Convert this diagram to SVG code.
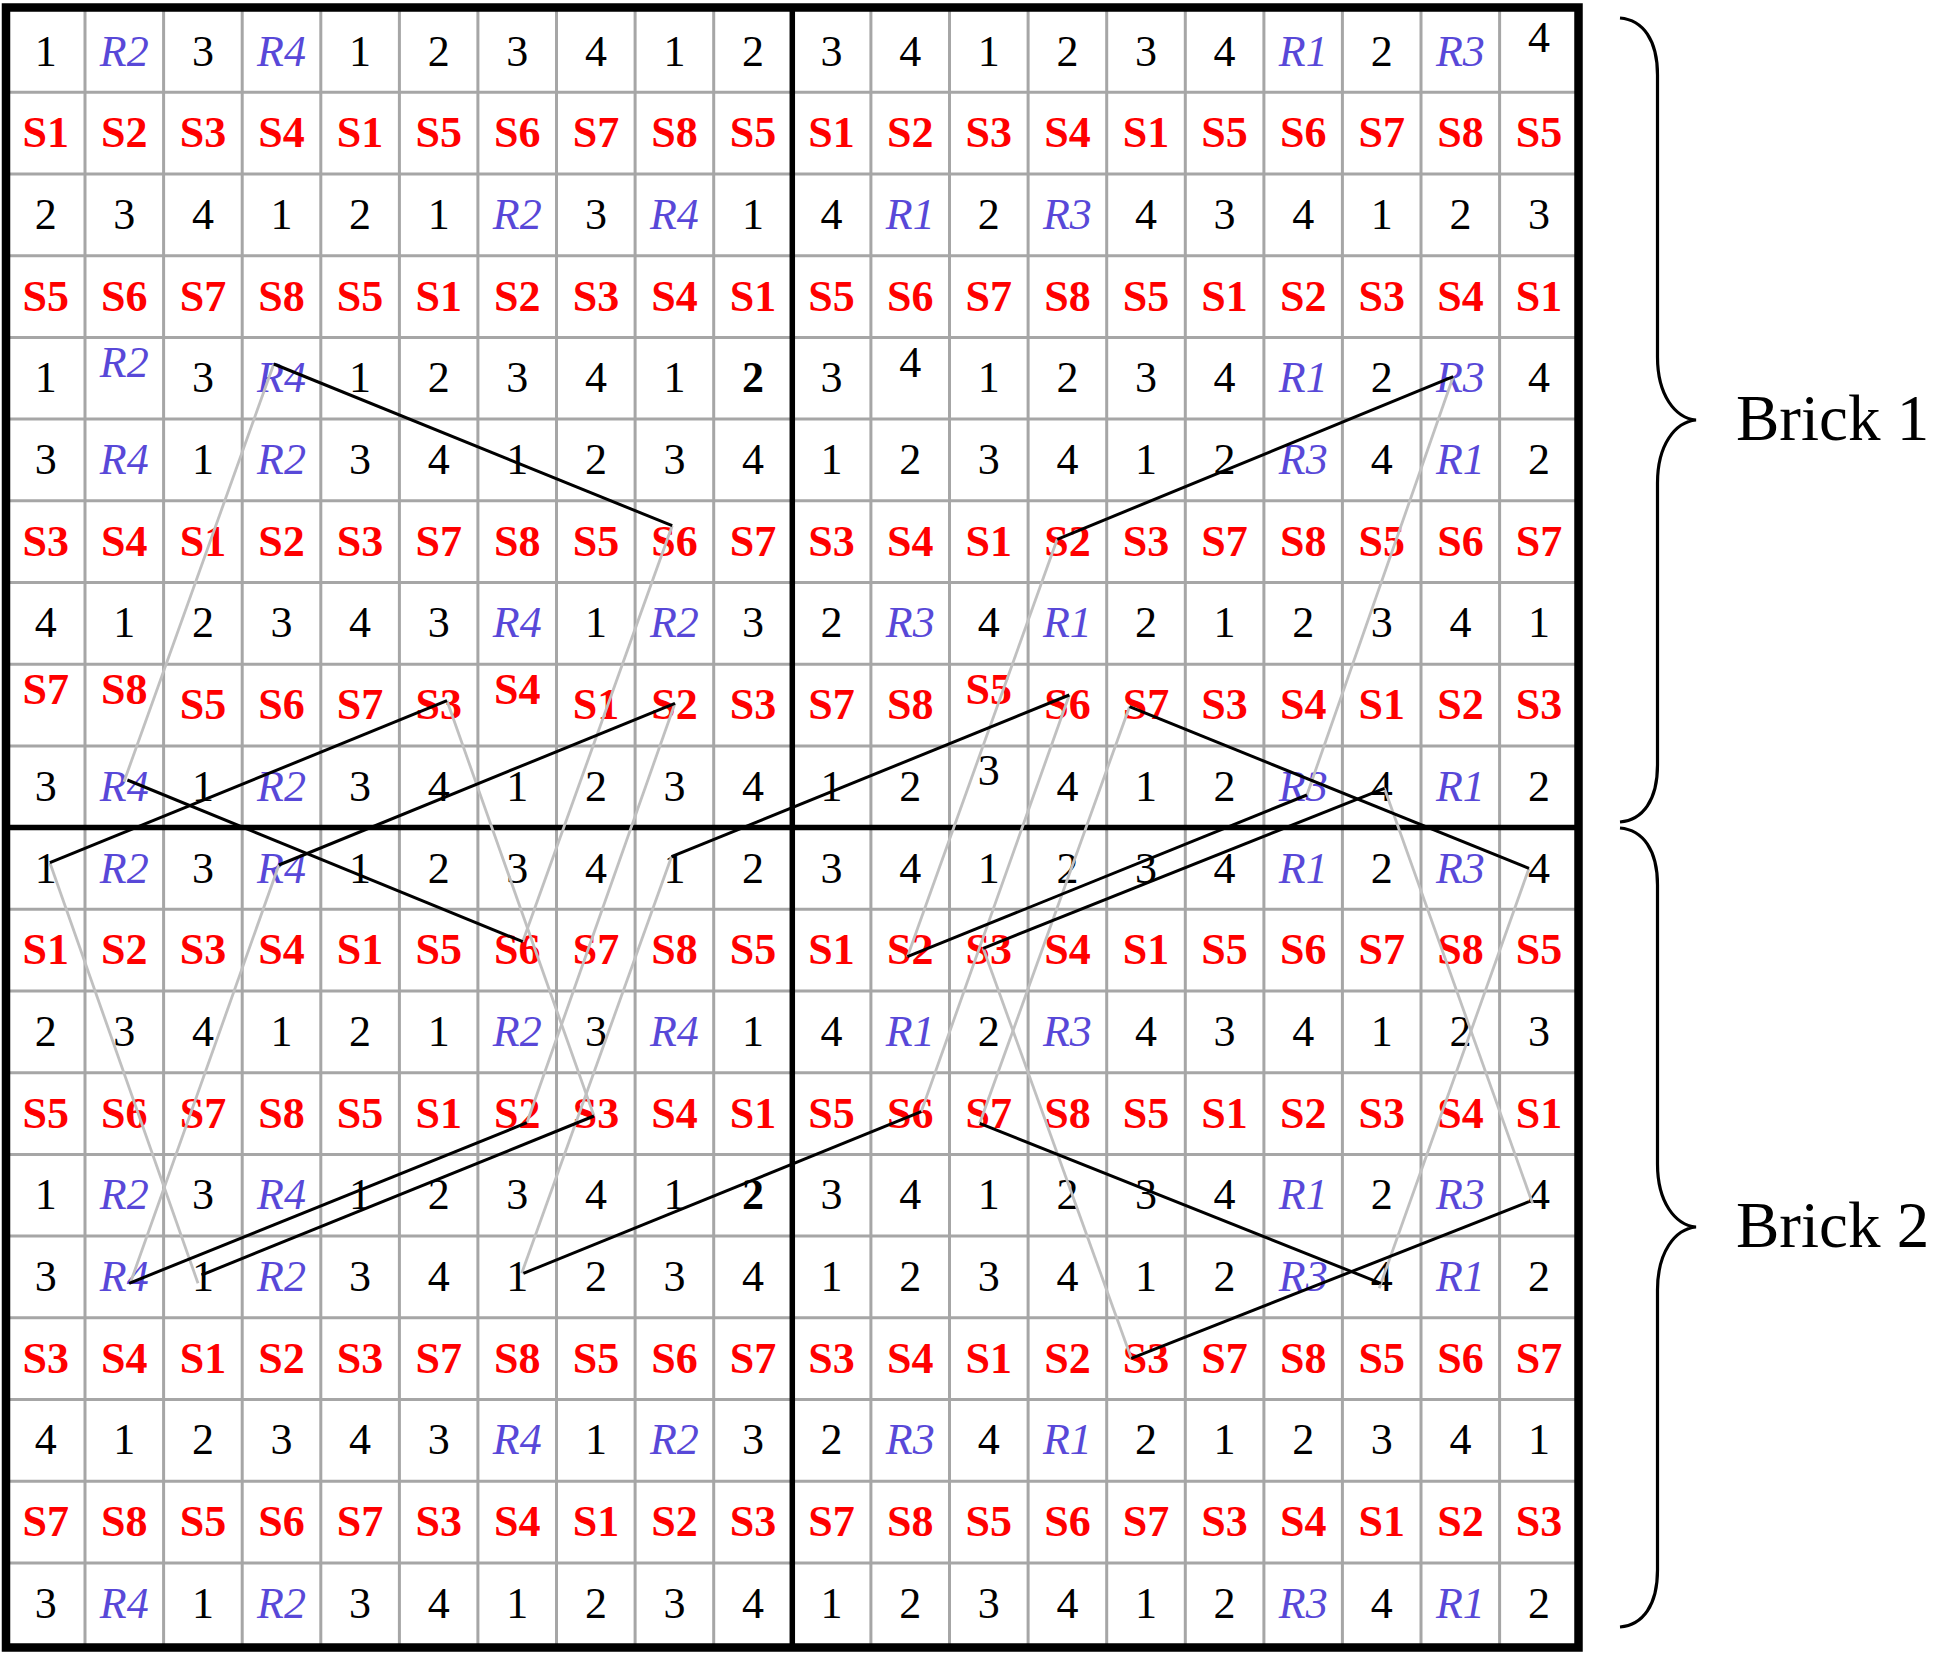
<svg xmlns="http://www.w3.org/2000/svg" width="1933" height="1656" viewBox="0 0 1933 1656">
<style>
text{font-family:"Liberation Serif","Times New Roman",serif;font-size:44px;text-anchor:middle}
.n{fill:#000}
.b{fill:#000;font-weight:bold}
.r{fill:#5848d8;font-style:italic}
.s{fill:#ff0000;font-weight:bold}
.grid{stroke:#a6a6a6;stroke-width:3;fill:none}
.thick{stroke:#000;stroke-width:5.5;fill:none}
.border{stroke:#000;stroke-width:8.5;fill:none}
.gl{stroke:#c0c0c0;stroke-width:2.8;fill:none}
.bl{stroke:#000;stroke-width:3;fill:none}
.brace{stroke:#000;stroke-width:3.2;fill:none}
.lbl{font-size:65px;text-anchor:start}
</style>
<rect width="1933" height="1656" fill="#fff"/>
<g id="grid">
<path class="grid" d="M85.0 10V1645M163.6 10V1645M242.2 10V1645M320.8 10V1645M399.4 10V1645M477.9 10V1645M556.5 10V1645M635.1 10V1645M713.7 10V1645M870.9 10V1645M949.5 10V1645M1028.1 10V1645M1106.7 10V1645M1185.3 10V1645M1263.9 10V1645M1342.4 10V1645M1421.0 10V1645M1499.6 10V1645"/>
<path class="grid" d="M8 92.3H1577M8 174.0H1577M8 255.7H1577M8 337.4H1577M8 419.1H1577M8 500.8H1577M8 582.5H1577M8 664.2H1577M8 745.9H1577M8 909.3H1577M8 991.0H1577M8 1072.7H1577M8 1154.4H1577M8 1236.1H1577M8 1317.8H1577M8 1399.5H1577M8 1481.2H1577M8 1562.9H1577"/>
<path class="thick" d="M792.3 8V1648M6 827.6H1578"/>
<rect class="border" x="6" y="7.5" width="1572.5" height="1640"/>
</g>
<g id="cells">
<g id="row0">
<text class="n" x="45.7" y="65.5">1</text><text class="r" x="124.3" y="65.5">R2</text><text class="n" x="202.9" y="65.5">3</text><text class="r" x="281.5" y="65.5">R4</text><text class="n" x="360.1" y="65.5">1</text><text class="n" x="438.7" y="65.5">2</text><text class="n" x="517.3" y="65.5">3</text><text class="n" x="595.9" y="65.5">4</text><text class="n" x="674.4" y="65.5">1</text><text class="n" x="753.0" y="65.5">2</text><text class="n" x="831.6" y="65.5">3</text><text class="n" x="910.2" y="65.5">4</text><text class="n" x="988.8" y="65.5">1</text><text class="n" x="1067.4" y="65.5">2</text><text class="n" x="1146.0" y="65.5">3</text><text class="n" x="1224.6" y="65.5">4</text><text class="r" x="1303.2" y="65.5">R1</text><text class="n" x="1381.8" y="65.5">2</text><text class="r" x="1460.4" y="65.5">R3</text><text class="n" x="1539.0" y="51.7">4</text>
</g>
<g id="row1">
<text class="s" x="45.7" y="147.2">S1</text><text class="s" x="124.3" y="147.2">S2</text><text class="s" x="202.9" y="147.2">S3</text><text class="s" x="281.5" y="147.2">S4</text><text class="s" x="360.1" y="147.2">S1</text><text class="s" x="438.7" y="147.2">S5</text><text class="s" x="517.3" y="147.2">S6</text><text class="s" x="595.9" y="147.2">S7</text><text class="s" x="674.4" y="147.2">S8</text><text class="s" x="753.0" y="147.2">S5</text><text class="s" x="831.6" y="147.2">S1</text><text class="s" x="910.2" y="147.2">S2</text><text class="s" x="988.8" y="147.2">S3</text><text class="s" x="1067.4" y="147.2">S4</text><text class="s" x="1146.0" y="147.2">S1</text><text class="s" x="1224.6" y="147.2">S5</text><text class="s" x="1303.2" y="147.2">S6</text><text class="s" x="1381.8" y="147.2">S7</text><text class="s" x="1460.4" y="147.2">S8</text><text class="s" x="1539.0" y="147.2">S5</text>
</g>
<g id="row2">
<text class="n" x="45.7" y="228.9">2</text><text class="n" x="124.3" y="228.9">3</text><text class="n" x="202.9" y="228.9">4</text><text class="n" x="281.5" y="228.9">1</text><text class="n" x="360.1" y="228.9">2</text><text class="n" x="438.7" y="228.9">1</text><text class="r" x="517.3" y="228.9">R2</text><text class="n" x="595.9" y="228.9">3</text><text class="r" x="674.4" y="228.9">R4</text><text class="n" x="753.0" y="228.9">1</text><text class="n" x="831.6" y="228.9">4</text><text class="r" x="910.2" y="228.9">R1</text><text class="n" x="988.8" y="228.9">2</text><text class="r" x="1067.4" y="228.9">R3</text><text class="n" x="1146.0" y="228.9">4</text><text class="n" x="1224.6" y="228.9">3</text><text class="n" x="1303.2" y="228.9">4</text><text class="n" x="1381.8" y="228.9">1</text><text class="n" x="1460.4" y="228.9">2</text><text class="n" x="1539.0" y="228.9">3</text>
</g>
<g id="row3">
<text class="s" x="45.7" y="310.6">S5</text><text class="s" x="124.3" y="310.6">S6</text><text class="s" x="202.9" y="310.6">S7</text><text class="s" x="281.5" y="310.6">S8</text><text class="s" x="360.1" y="310.6">S5</text><text class="s" x="438.7" y="310.6">S1</text><text class="s" x="517.3" y="310.6">S2</text><text class="s" x="595.9" y="310.6">S3</text><text class="s" x="674.4" y="310.6">S4</text><text class="s" x="753.0" y="310.6">S1</text><text class="s" x="831.6" y="310.6">S5</text><text class="s" x="910.2" y="310.6">S6</text><text class="s" x="988.8" y="310.6">S7</text><text class="s" x="1067.4" y="310.6">S8</text><text class="s" x="1146.0" y="310.6">S5</text><text class="s" x="1224.6" y="310.6">S1</text><text class="s" x="1303.2" y="310.6">S2</text><text class="s" x="1381.8" y="310.6">S3</text><text class="s" x="1460.4" y="310.6">S4</text><text class="s" x="1539.0" y="310.6">S1</text>
</g>
<g id="row4">
<text class="n" x="45.7" y="392.3">1</text><text class="r" x="124.3" y="377.3">R2</text><text class="n" x="202.9" y="392.3">3</text><text class="r" x="281.5" y="392.3">R4</text><text class="n" x="360.1" y="392.3">1</text><text class="n" x="438.7" y="392.3">2</text><text class="n" x="517.3" y="392.3">3</text><text class="n" x="595.9" y="392.3">4</text><text class="n" x="674.4" y="392.3">1</text><text class="b" x="753.0" y="392.3">2</text><text class="n" x="831.6" y="392.3">3</text><text class="n" x="910.2" y="377.3">4</text><text class="n" x="988.8" y="392.3">1</text><text class="n" x="1067.4" y="392.3">2</text><text class="n" x="1146.0" y="392.3">3</text><text class="n" x="1224.6" y="392.3">4</text><text class="r" x="1303.2" y="392.3">R1</text><text class="n" x="1381.8" y="392.3">2</text><text class="r" x="1460.4" y="392.3">R3</text><text class="n" x="1539.0" y="392.3">4</text>
</g>
<g id="row5">
<text class="n" x="45.7" y="474.0">3</text><text class="r" x="124.3" y="474.0">R4</text><text class="n" x="202.9" y="474.0">1</text><text class="r" x="281.5" y="474.0">R2</text><text class="n" x="360.1" y="474.0">3</text><text class="n" x="438.7" y="474.0">4</text><text class="n" x="517.3" y="474.0">1</text><text class="n" x="595.9" y="474.0">2</text><text class="n" x="674.4" y="474.0">3</text><text class="n" x="753.0" y="474.0">4</text><text class="n" x="831.6" y="474.0">1</text><text class="n" x="910.2" y="474.0">2</text><text class="n" x="988.8" y="474.0">3</text><text class="n" x="1067.4" y="474.0">4</text><text class="n" x="1146.0" y="474.0">1</text><text class="n" x="1224.6" y="474.0">2</text><text class="r" x="1303.2" y="474.0">R3</text><text class="n" x="1381.8" y="474.0">4</text><text class="r" x="1460.4" y="474.0">R1</text><text class="n" x="1539.0" y="474.0">2</text>
</g>
<g id="row6">
<text class="s" x="45.7" y="555.7">S3</text><text class="s" x="124.3" y="555.7">S4</text><text class="s" x="202.9" y="555.7">S1</text><text class="s" x="281.5" y="555.7">S2</text><text class="s" x="360.1" y="555.7">S3</text><text class="s" x="438.7" y="555.7">S7</text><text class="s" x="517.3" y="555.7">S8</text><text class="s" x="595.9" y="555.7">S5</text><text class="s" x="674.4" y="555.7">S6</text><text class="s" x="753.0" y="555.7">S7</text><text class="s" x="831.6" y="555.7">S3</text><text class="s" x="910.2" y="555.7">S4</text><text class="s" x="988.8" y="555.7">S1</text><text class="s" x="1067.4" y="555.7">S2</text><text class="s" x="1146.0" y="555.7">S3</text><text class="s" x="1224.6" y="555.7">S7</text><text class="s" x="1303.2" y="555.7">S8</text><text class="s" x="1381.8" y="555.7">S5</text><text class="s" x="1460.4" y="555.7">S6</text><text class="s" x="1539.0" y="555.7">S7</text>
</g>
<g id="row7">
<text class="n" x="45.7" y="637.4">4</text><text class="n" x="124.3" y="637.4">1</text><text class="n" x="202.9" y="637.4">2</text><text class="n" x="281.5" y="637.4">3</text><text class="n" x="360.1" y="637.4">4</text><text class="n" x="438.7" y="637.4">3</text><text class="r" x="517.3" y="637.4">R4</text><text class="n" x="595.9" y="637.4">1</text><text class="r" x="674.4" y="637.4">R2</text><text class="n" x="753.0" y="637.4">3</text><text class="n" x="831.6" y="637.4">2</text><text class="r" x="910.2" y="637.4">R3</text><text class="n" x="988.8" y="637.4">4</text><text class="r" x="1067.4" y="637.4">R1</text><text class="n" x="1146.0" y="637.4">2</text><text class="n" x="1224.6" y="637.4">1</text><text class="n" x="1303.2" y="637.4">2</text><text class="n" x="1381.8" y="637.4">3</text><text class="n" x="1460.4" y="637.4">4</text><text class="n" x="1539.0" y="637.4">1</text>
</g>
<g id="row8">
<text class="s" x="45.7" y="704">S7</text><text class="s" x="124.3" y="704">S8</text><text class="s" x="202.9" y="719.1">S5</text><text class="s" x="281.5" y="719.1">S6</text><text class="s" x="360.1" y="719.1">S7</text><text class="s" x="438.7" y="719.1">S3</text><text class="s" x="517.3" y="704">S4</text><text class="s" x="595.9" y="719.1">S1</text><text class="s" x="674.4" y="719.1">S2</text><text class="s" x="753.0" y="719.1">S3</text><text class="s" x="831.6" y="719.1">S7</text><text class="s" x="910.2" y="719.1">S8</text><text class="s" x="988.8" y="704">S5</text><text class="s" x="1067.4" y="719.1">S6</text><text class="s" x="1146.0" y="719.1">S7</text><text class="s" x="1224.6" y="719.1">S3</text><text class="s" x="1303.2" y="719.1">S4</text><text class="s" x="1381.8" y="719.1">S1</text><text class="s" x="1460.4" y="719.1">S2</text><text class="s" x="1539.0" y="719.1">S3</text>
</g>
<g id="row9">
<text class="n" x="45.7" y="800.8">3</text><text class="r" x="124.3" y="800.8">R4</text><text class="n" x="202.9" y="800.8">1</text><text class="r" x="281.5" y="800.8">R2</text><text class="n" x="360.1" y="800.8">3</text><text class="n" x="438.7" y="800.8">4</text><text class="n" x="517.3" y="800.8">1</text><text class="n" x="595.9" y="800.8">2</text><text class="n" x="674.4" y="800.8">3</text><text class="n" x="753.0" y="800.8">4</text><text class="n" x="831.6" y="800.8">1</text><text class="n" x="910.2" y="800.8">2</text><text class="n" x="988.8" y="785">3</text><text class="n" x="1067.4" y="800.8">4</text><text class="n" x="1146.0" y="800.8">1</text><text class="n" x="1224.6" y="800.8">2</text><text class="r" x="1303.2" y="800.8">R3</text><text class="n" x="1381.8" y="800.8">4</text><text class="r" x="1460.4" y="800.8">R1</text><text class="n" x="1539.0" y="800.8">2</text>
</g>
<g id="row10">
<text class="n" x="45.7" y="882.5">1</text><text class="r" x="124.3" y="882.5">R2</text><text class="n" x="202.9" y="882.5">3</text><text class="r" x="281.5" y="882.5">R4</text><text class="n" x="360.1" y="882.5">1</text><text class="n" x="438.7" y="882.5">2</text><text class="n" x="517.3" y="882.5">3</text><text class="n" x="595.9" y="882.5">4</text><text class="n" x="674.4" y="882.5">1</text><text class="n" x="753.0" y="882.5">2</text><text class="n" x="831.6" y="882.5">3</text><text class="n" x="910.2" y="882.5">4</text><text class="n" x="988.8" y="882.5">1</text><text class="n" x="1067.4" y="882.5">2</text><text class="n" x="1146.0" y="882.5">3</text><text class="n" x="1224.6" y="882.5">4</text><text class="r" x="1303.2" y="882.5">R1</text><text class="n" x="1381.8" y="882.5">2</text><text class="r" x="1460.4" y="882.5">R3</text><text class="n" x="1539.0" y="882.5">4</text>
</g>
<g id="row11">
<text class="s" x="45.7" y="964.2">S1</text><text class="s" x="124.3" y="964.2">S2</text><text class="s" x="202.9" y="964.2">S3</text><text class="s" x="281.5" y="964.2">S4</text><text class="s" x="360.1" y="964.2">S1</text><text class="s" x="438.7" y="964.2">S5</text><text class="s" x="517.3" y="964.2">S6</text><text class="s" x="595.9" y="964.2">S7</text><text class="s" x="674.4" y="964.2">S8</text><text class="s" x="753.0" y="964.2">S5</text><text class="s" x="831.6" y="964.2">S1</text><text class="s" x="910.2" y="964.2">S2</text><text class="s" x="988.8" y="964.2">S3</text><text class="s" x="1067.4" y="964.2">S4</text><text class="s" x="1146.0" y="964.2">S1</text><text class="s" x="1224.6" y="964.2">S5</text><text class="s" x="1303.2" y="964.2">S6</text><text class="s" x="1381.8" y="964.2">S7</text><text class="s" x="1460.4" y="964.2">S8</text><text class="s" x="1539.0" y="964.2">S5</text>
</g>
<g id="row12">
<text class="n" x="45.7" y="1045.9">2</text><text class="n" x="124.3" y="1045.9">3</text><text class="n" x="202.9" y="1045.9">4</text><text class="n" x="281.5" y="1045.9">1</text><text class="n" x="360.1" y="1045.9">2</text><text class="n" x="438.7" y="1045.9">1</text><text class="r" x="517.3" y="1045.9">R2</text><text class="n" x="595.9" y="1045.9">3</text><text class="r" x="674.4" y="1045.9">R4</text><text class="n" x="753.0" y="1045.9">1</text><text class="n" x="831.6" y="1045.9">4</text><text class="r" x="910.2" y="1045.9">R1</text><text class="n" x="988.8" y="1045.9">2</text><text class="r" x="1067.4" y="1045.9">R3</text><text class="n" x="1146.0" y="1045.9">4</text><text class="n" x="1224.6" y="1045.9">3</text><text class="n" x="1303.2" y="1045.9">4</text><text class="n" x="1381.8" y="1045.9">1</text><text class="n" x="1460.4" y="1045.9">2</text><text class="n" x="1539.0" y="1045.9">3</text>
</g>
<g id="row13">
<text class="s" x="45.7" y="1127.6">S5</text><text class="s" x="124.3" y="1127.6">S6</text><text class="s" x="202.9" y="1127.6">S7</text><text class="s" x="281.5" y="1127.6">S8</text><text class="s" x="360.1" y="1127.6">S5</text><text class="s" x="438.7" y="1127.6">S1</text><text class="s" x="517.3" y="1127.6">S2</text><text class="s" x="595.9" y="1127.6">S3</text><text class="s" x="674.4" y="1127.6">S4</text><text class="s" x="753.0" y="1127.6">S1</text><text class="s" x="831.6" y="1127.6">S5</text><text class="s" x="910.2" y="1127.6">S6</text><text class="s" x="988.8" y="1127.6">S7</text><text class="s" x="1067.4" y="1127.6">S8</text><text class="s" x="1146.0" y="1127.6">S5</text><text class="s" x="1224.6" y="1127.6">S1</text><text class="s" x="1303.2" y="1127.6">S2</text><text class="s" x="1381.8" y="1127.6">S3</text><text class="s" x="1460.4" y="1127.6">S4</text><text class="s" x="1539.0" y="1127.6">S1</text>
</g>
<g id="row14">
<text class="n" x="45.7" y="1209.3">1</text><text class="r" x="124.3" y="1209.3">R2</text><text class="n" x="202.9" y="1209.3">3</text><text class="r" x="281.5" y="1209.3">R4</text><text class="n" x="360.1" y="1209.3">1</text><text class="n" x="438.7" y="1209.3">2</text><text class="n" x="517.3" y="1209.3">3</text><text class="n" x="595.9" y="1209.3">4</text><text class="n" x="674.4" y="1209.3">1</text><text class="b" x="753.0" y="1209.3">2</text><text class="n" x="831.6" y="1209.3">3</text><text class="n" x="910.2" y="1209.3">4</text><text class="n" x="988.8" y="1209.3">1</text><text class="n" x="1067.4" y="1209.3">2</text><text class="n" x="1146.0" y="1209.3">3</text><text class="n" x="1224.6" y="1209.3">4</text><text class="r" x="1303.2" y="1209.3">R1</text><text class="n" x="1381.8" y="1209.3">2</text><text class="r" x="1460.4" y="1209.3">R3</text><text class="n" x="1539.0" y="1209.3">4</text>
</g>
<g id="row15">
<text class="n" x="45.7" y="1291.0">3</text><text class="r" x="124.3" y="1291.0">R4</text><text class="n" x="202.9" y="1291.0">1</text><text class="r" x="281.5" y="1291.0">R2</text><text class="n" x="360.1" y="1291.0">3</text><text class="n" x="438.7" y="1291.0">4</text><text class="n" x="517.3" y="1291.0">1</text><text class="n" x="595.9" y="1291.0">2</text><text class="n" x="674.4" y="1291.0">3</text><text class="n" x="753.0" y="1291.0">4</text><text class="n" x="831.6" y="1291.0">1</text><text class="n" x="910.2" y="1291.0">2</text><text class="n" x="988.8" y="1291.0">3</text><text class="n" x="1067.4" y="1291.0">4</text><text class="n" x="1146.0" y="1291.0">1</text><text class="n" x="1224.6" y="1291.0">2</text><text class="r" x="1303.2" y="1291.0">R3</text><text class="n" x="1381.8" y="1291.0">4</text><text class="r" x="1460.4" y="1291.0">R1</text><text class="n" x="1539.0" y="1291.0">2</text>
</g>
<g id="row16">
<text class="s" x="45.7" y="1372.7">S3</text><text class="s" x="124.3" y="1372.7">S4</text><text class="s" x="202.9" y="1372.7">S1</text><text class="s" x="281.5" y="1372.7">S2</text><text class="s" x="360.1" y="1372.7">S3</text><text class="s" x="438.7" y="1372.7">S7</text><text class="s" x="517.3" y="1372.7">S8</text><text class="s" x="595.9" y="1372.7">S5</text><text class="s" x="674.4" y="1372.7">S6</text><text class="s" x="753.0" y="1372.7">S7</text><text class="s" x="831.6" y="1372.7">S3</text><text class="s" x="910.2" y="1372.7">S4</text><text class="s" x="988.8" y="1372.7">S1</text><text class="s" x="1067.4" y="1372.7">S2</text><text class="s" x="1146.0" y="1372.7">S3</text><text class="s" x="1224.6" y="1372.7">S7</text><text class="s" x="1303.2" y="1372.7">S8</text><text class="s" x="1381.8" y="1372.7">S5</text><text class="s" x="1460.4" y="1372.7">S6</text><text class="s" x="1539.0" y="1372.7">S7</text>
</g>
<g id="row17">
<text class="n" x="45.7" y="1454.4">4</text><text class="n" x="124.3" y="1454.4">1</text><text class="n" x="202.9" y="1454.4">2</text><text class="n" x="281.5" y="1454.4">3</text><text class="n" x="360.1" y="1454.4">4</text><text class="n" x="438.7" y="1454.4">3</text><text class="r" x="517.3" y="1454.4">R4</text><text class="n" x="595.9" y="1454.4">1</text><text class="r" x="674.4" y="1454.4">R2</text><text class="n" x="753.0" y="1454.4">3</text><text class="n" x="831.6" y="1454.4">2</text><text class="r" x="910.2" y="1454.4">R3</text><text class="n" x="988.8" y="1454.4">4</text><text class="r" x="1067.4" y="1454.4">R1</text><text class="n" x="1146.0" y="1454.4">2</text><text class="n" x="1224.6" y="1454.4">1</text><text class="n" x="1303.2" y="1454.4">2</text><text class="n" x="1381.8" y="1454.4">3</text><text class="n" x="1460.4" y="1454.4">4</text><text class="n" x="1539.0" y="1454.4">1</text>
</g>
<g id="row18">
<text class="s" x="45.7" y="1536.1">S7</text><text class="s" x="124.3" y="1536.1">S8</text><text class="s" x="202.9" y="1536.1">S5</text><text class="s" x="281.5" y="1536.1">S6</text><text class="s" x="360.1" y="1536.1">S7</text><text class="s" x="438.7" y="1536.1">S3</text><text class="s" x="517.3" y="1536.1">S4</text><text class="s" x="595.9" y="1536.1">S1</text><text class="s" x="674.4" y="1536.1">S2</text><text class="s" x="753.0" y="1536.1">S3</text><text class="s" x="831.6" y="1536.1">S7</text><text class="s" x="910.2" y="1536.1">S8</text><text class="s" x="988.8" y="1536.1">S5</text><text class="s" x="1067.4" y="1536.1">S6</text><text class="s" x="1146.0" y="1536.1">S7</text><text class="s" x="1224.6" y="1536.1">S3</text><text class="s" x="1303.2" y="1536.1">S4</text><text class="s" x="1381.8" y="1536.1">S1</text><text class="s" x="1460.4" y="1536.1">S2</text><text class="s" x="1539.0" y="1536.1">S3</text>
</g>
<g id="row19">
<text class="n" x="45.7" y="1617.8">3</text><text class="r" x="124.3" y="1617.8">R4</text><text class="n" x="202.9" y="1617.8">1</text><text class="r" x="281.5" y="1617.8">R2</text><text class="n" x="360.1" y="1617.8">3</text><text class="n" x="438.7" y="1617.8">4</text><text class="n" x="517.3" y="1617.8">1</text><text class="n" x="595.9" y="1617.8">2</text><text class="n" x="674.4" y="1617.8">3</text><text class="n" x="753.0" y="1617.8">4</text><text class="n" x="831.6" y="1617.8">1</text><text class="n" x="910.2" y="1617.8">2</text><text class="n" x="988.8" y="1617.8">3</text><text class="n" x="1067.4" y="1617.8">4</text><text class="n" x="1146.0" y="1617.8">1</text><text class="n" x="1224.6" y="1617.8">2</text><text class="r" x="1303.2" y="1617.8">R3</text><text class="n" x="1381.8" y="1617.8">4</text><text class="r" x="1460.4" y="1617.8">R1</text><text class="n" x="1539.0" y="1617.8">2</text>
</g>
</g>
<g id="connectors">
<g id="grey-links">
<path class="gl" d="M273.8 364L124 781.7"/>
<path class="gl" d="M672.2 525.7L522.7 941.7"/>
<path class="gl" d="M447 700.7L594 1116"/>
<path class="gl" d="M675 703.3L526.9 1122.7"/>
<path class="gl" d="M49.9 862.7L198 1283.3"/>
<path class="gl" d="M278.9 865L130.2 1283.3"/>
<path class="gl" d="M671.5 856.7L521.7 1273.3"/>
<path class="gl" d="M1453.2 376.7L1306.9 795"/>
<path class="gl" d="M1057.2 539.3L907.4 956.7"/>
<path class="gl" d="M1069.3 695L921.2 1111.7"/>
<path class="gl" d="M1129.5 706.7L979.7 1123.3"/>
<path class="gl" d="M983.2 948.3L1131.3 1358.3"/>
<path class="gl" d="M1384.4 788.3L1532.5 1203.3"/>
<path class="gl" d="M1529 868.3L1379.2 1288.3"/>
</g>
<g id="black-links">
<path class="bl" d="M273.8 364L672.2 525.7"/>
<path class="bl" d="M1453.2 376.7L1057.2 539.3"/>
<path class="bl" d="M49.9 862.7L447 700.7"/>
<path class="bl" d="M127.4 780L522.7 941.7"/>
<path class="bl" d="M278.9 865L675 703.3"/>
<path class="bl" d="M671.5 856.7L1069.3 695"/>
<path class="bl" d="M1129.5 706.7L1529 868.3"/>
<path class="bl" d="M907.4 956.7L1306.9 795"/>
<path class="bl" d="M983.2 948.3L1384.4 788.3"/>
<path class="bl" d="M129.1 1283.3L526.9 1122.7"/>
<path class="bl" d="M201.5 1275L594 1116"/>
<path class="bl" d="M523.4 1273.3L921.2 1111.7"/>
<path class="bl" d="M979.7 1123.3L1380.9 1283.3"/>
<path class="bl" d="M1131.3 1358.3L1529 1201.7"/>
</g>
</g>
<g id="brick1">
<path class="brace" d="M1620 18C1643 20 1657.5 40 1657.5 75L1657.5 357C1657.5 395 1675 418 1696 420C1675 422 1657.5 445 1657.5 483L1657.5 765C1657.5 800 1643 820 1620 822"/>
<text class="n lbl" x="1736" y="440">Brick 1</text>
</g>
<g id="brick2">
<path class="brace" d="M1620 828C1643 830 1657.5 850 1657.5 885L1657.5 1164C1657.5 1202 1675 1225 1696 1227C1675 1229 1657.5 1252 1657.5 1290L1657.5 1570C1657.5 1605 1643 1625 1620 1627"/>
<text class="n lbl" x="1736" y="1247">Brick 2</text>
</g>
</svg>
